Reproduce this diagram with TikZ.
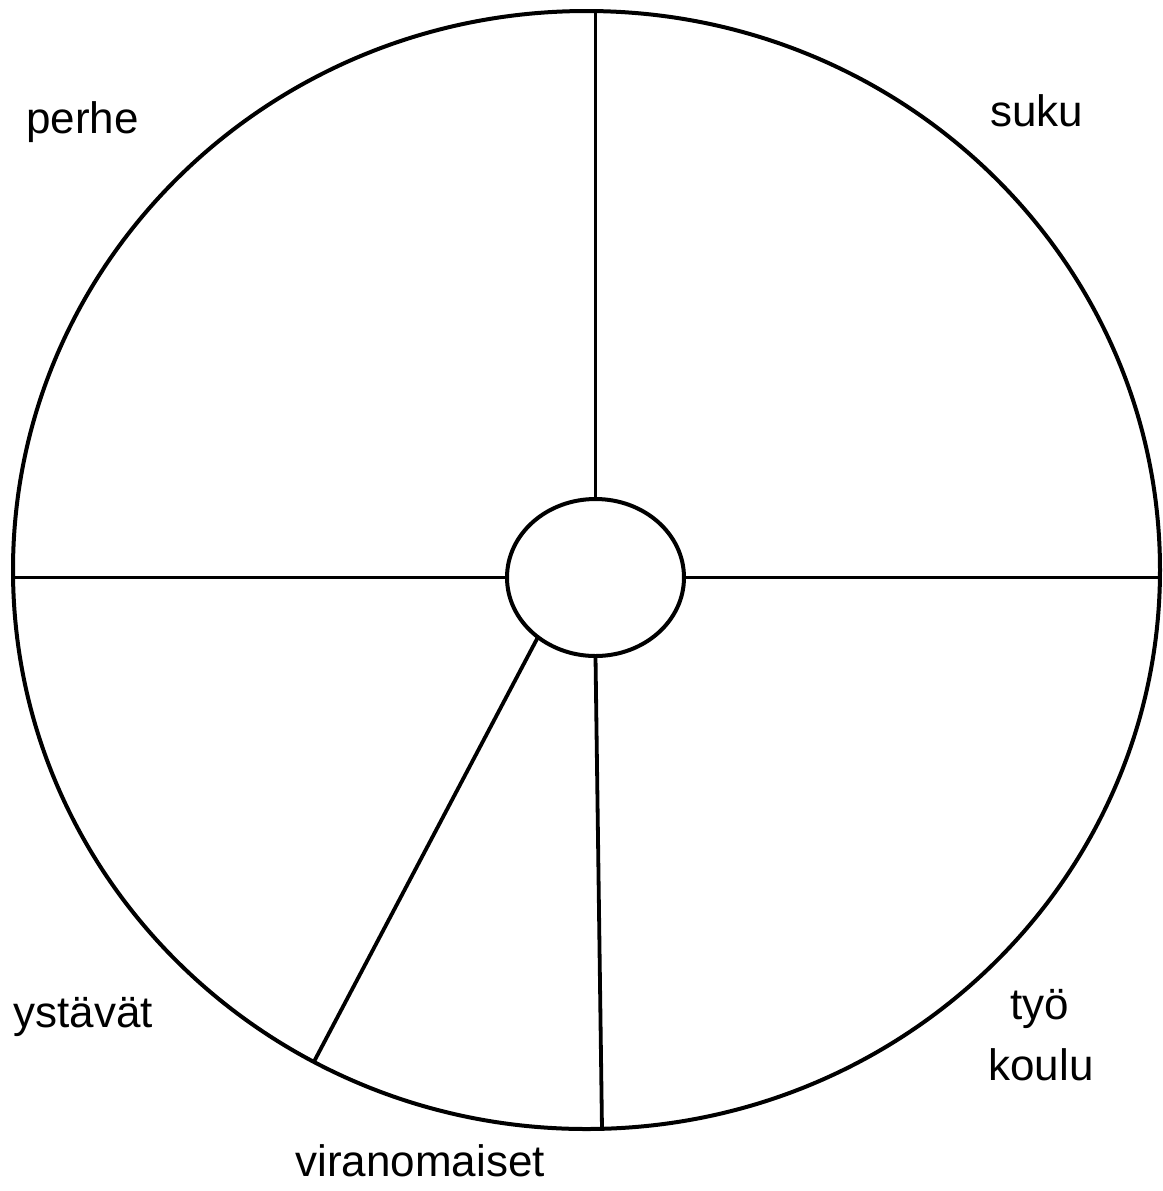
\documentclass[tikz,border=0pt]{standalone}
\usepackage{fontspec}
\setmainfont{Liberation Sans}
\usetikzlibrary{shapes.geometric}
\begin{document}
\begin{tikzpicture}[x=0.5pt,y=-0.5pt,
  ring/.style={draw, ellipse, inner sep=0pt, outer sep=0pt, line width=2pt},
  spoke/.style={line width=1.9pt},
  lbl/.style={inner sep=0pt, anchor=base west, font=\fontsize{22}{26}\selectfont},
  lblc/.style={inner sep=0pt, anchor=base, font=\fontsize{22}{26}\selectfont}]
\useasboundingbox (0,0) rectangle (1163,1191);
\node[ring, minimum width=573.5pt, minimum height=559pt] (outer) at (586.5,570) {};
\node[ring, minimum width=88.5pt, minimum height=78.5pt] (hub) at (595.5,577.5) {};
\coordinate (bot) at (602,1129);
\draw[spoke] (hub.north) -- (hub.north |- outer.north);
\draw[spoke] (hub.west) -- (hub.west -| outer.west);
\draw[spoke] (hub.east) -- (hub.east -| outer.east);
\draw[spoke] (hub.south) -- (bot);
\draw[spoke] (hub.226) -- (outer.241.5);
\node[lbl] (perhe) at (26,133) {perhe};
\node[lbl] (suku) at (990,126) {suku};
\node[lbl] (ystavat) at (13,1027) {ystävät};
\node[lblc] (tyo) at (1040,1019) {työ};
\node[lblc] (koulu) at (1041,1080) {koulu};
\node[lbl] (viranomaiset) at (295,1176) {viranomaiset};
\end{tikzpicture}
\end{document}
